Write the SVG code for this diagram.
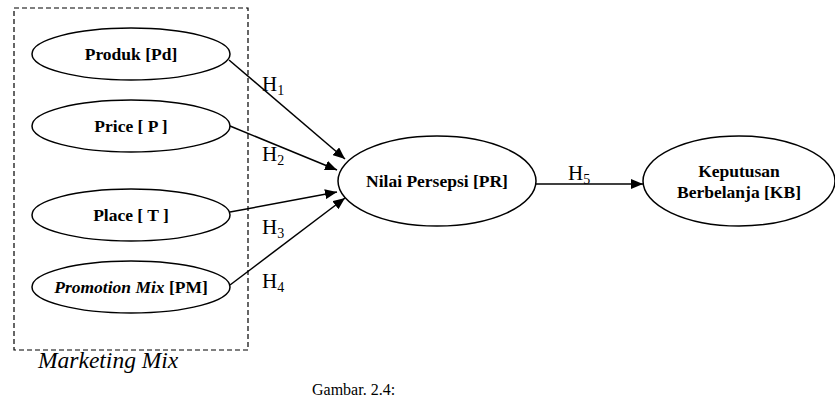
<svg xmlns="http://www.w3.org/2000/svg" width="835" height="404" viewBox="0 0 835 404">
<style>
.n{fill:#fff;stroke:#000;stroke-width:1.5}
.t{font-family:"Liberation Serif",serif;font-weight:bold;font-size:17.5px;text-anchor:middle;fill:#000}
.h{font-family:"Liberation Serif",serif;font-size:21px;fill:#000}
.c{stroke:#000;stroke-width:1.5;fill:none;marker-end:url(#a)}
</style>
<defs>
<marker id="a" viewBox="0 0 12 10" refX="12" refY="5" markerWidth="12" markerHeight="10" markerUnits="userSpaceOnUse" orient="auto">
<path d="M0,0 L12,5 L0,10 z" fill="#000"/>
</marker>
</defs>
<rect x="14" y="8" width="234" height="342" fill="none" stroke="#000" stroke-width="1.2" stroke-dasharray="5,3"/>
<text x="38" y="368" font-family="Liberation Serif,serif" font-style="italic" font-size="23.5" fill="#000">Marketing Mix</text>
<g id="produk"><ellipse class="n" cx="131" cy="54" rx="99" ry="26"/><text class="t" x="131" y="60">Produk [Pd]</text></g>
<g id="price"><ellipse class="n" cx="131" cy="126" rx="99" ry="26"/><text class="t" x="131" y="132">Price [ P ]</text></g>
<g id="place"><ellipse class="n" cx="131" cy="215" rx="99" ry="26"/><text class="t" x="131" y="221">Place [ T ]</text></g>
<g id="promotion"><ellipse class="n" cx="131" cy="287" rx="99" ry="26"/><text class="t" x="131" y="293"><tspan font-style="italic">Promotion Mix</tspan> [PM]</text></g>
<g id="nilai"><ellipse class="n" cx="437" cy="181" rx="99" ry="45"/><text class="t" x="437" y="187">Nilai Persepsi [PR]</text></g>
<g id="keputusan"><ellipse class="n" cx="739" cy="181" rx="96" ry="45"/><text class="t" x="739" y="177">Keputusan</text><text class="t" x="739" y="198">Berbelanja [KB]</text></g>
<g id="connectors">
<line class="c" x1="229" y1="60" x2="345" y2="159"/>
<line class="c" x1="230" y1="126" x2="337" y2="170"/>
<line class="c" x1="230" y1="212" x2="337" y2="192"/>
<line class="c" x1="230" y1="285" x2="345" y2="198"/>
<line class="c" x1="536" y1="184" x2="643" y2="184"/>
</g>
<g id="labels">
<text class="h" x="262" y="91">H<tspan font-size="14" dy="4">1</tspan></text>
<text class="h" x="262" y="161">H<tspan font-size="14" dy="4">2</tspan></text>
<text class="h" x="262" y="234">H<tspan font-size="14" dy="4">3</tspan></text>
<text class="h" x="262" y="288">H<tspan font-size="14" dy="4">4</tspan></text>
<text class="h" x="568" y="180">H<tspan font-size="14" dy="4">5</tspan></text>
</g>
<text x="312" y="395" font-family="Liberation Serif,serif" font-size="16" fill="#000">Gambar. 2.4:</text>
</svg>
